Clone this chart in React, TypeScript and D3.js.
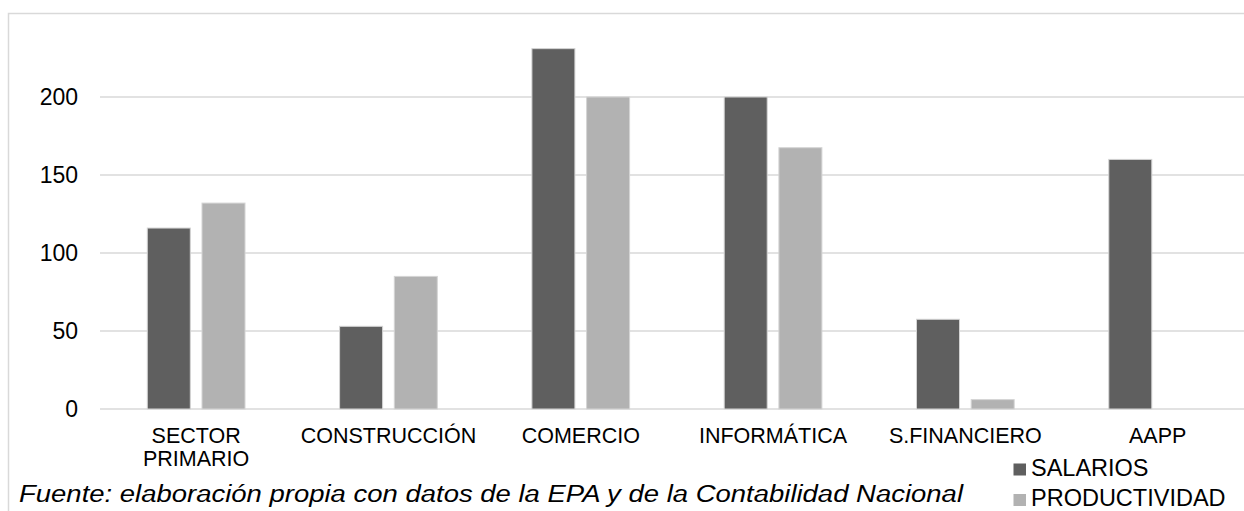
import React from "react";
import * as d3 from "d3";

const categories: string[][] = [
  ["SECTOR", "PRIMARIO"],
  ["CONSTRUCCIÓN"],
  ["COMERCIO"],
  ["INFORMÁTICA"],
  ["S.FINANCIERO"],
  ["AAPP"],
];
const seriesNames = ["SALARIOS", "PRODUCTIVIDAD"];
const salarios = [116, 53, 231, 200, 57.5, 160];
const productividad = [132, 85, 200, 167.5, 6, 0];
const yTicks = [0, 50, 100, 150, 200];
const footnote = "Fuente: elaboración propia con datos de la EPA y de la Contabilidad Nacional";

const colors = ["#5f5f5f", "#b2b2b2"];
const FONT = "Liberation Sans, Arial, sans-serif";

export default function App() {
  const W = 1244;
  const H = 511;
  const catIdx = categories.map((_, i) => String(i));
  const x0 = d3.scaleBand<string>().domain(catIdx).range([100, 100 + 6 * 192.3]).padding(0);
  const x1 = d3.scaleBand<string>().domain(seriesNames).range([-48.85, 48.85]).paddingInner(0.214).paddingOuter(0);
  const y = d3.scaleLinear().domain([0, 200]).range([409, 97]);
  const data = [salarios, productividad];

  return (
    <svg width={W} height={H} style={{ position: "absolute", left: 0, top: 0, display: "block" }} fontFamily={FONT}>
      <rect x={0} y={0} width={W} height={H} fill="#ffffff" />
      <rect x={8.5} y={13.5} width={1400} height={600} fill="none" stroke="#d9d9d9" strokeWidth={1.5} />
      {yTicks.map((t) => (
        <g key={t}>
          <line x1={100} x2={1300} y1={y(t)} y2={y(t)} stroke="#d9d9d9" strokeWidth={1.5} />
          <text x={78} y={y(t)} dy="0.35em" textAnchor="end" fontSize={23} fill="#000">
            {t}
          </text>
        </g>
      ))}
      {catIdx.map((c, i) => {
        const cx = (x0(c) as number) + x0.bandwidth() / 2;
        return (
          <g key={c}>
            {seriesNames.map((s, k) => {
              const v = data[k][i];
              const bx = cx + (x1(s) as number);
              return (
                <rect
                  key={s}
                  x={bx}
                  y={y(v)}
                  width={x1.bandwidth()}
                  height={y(0) - y(v)}
                  fill={colors[k]}
                  stroke="#d4d4d4"
                  strokeWidth={1}
                />
              );
            })}
            <text x={cx} y={443} textAnchor="middle" fontSize={21.5} fill="#000">
              {categories[i].map((line, j) => (
                <tspan key={j} x={cx} dy={j === 0 ? 0 : 22.7}>
                  {line}
                </tspan>
              ))}
            </text>
          </g>
        );
      })}
      <text x={19} y={502} fontSize={23} fontStyle="italic" fill="#000" textLength={944} lengthAdjust="spacingAndGlyphs">
        {footnote}
      </text>
      {seriesNames.map((s, k) => (
        <g key={s}>
          <rect x={1013.5} y={463.5 + k * 30.5} width={12.5} height={12} fill={colors[k]} />
          <text x={1031} y={476 + k * 29.5} fontSize={23.5} fill="#000">
            {s}
          </text>
        </g>
      ))}
    </svg>
  );
}
